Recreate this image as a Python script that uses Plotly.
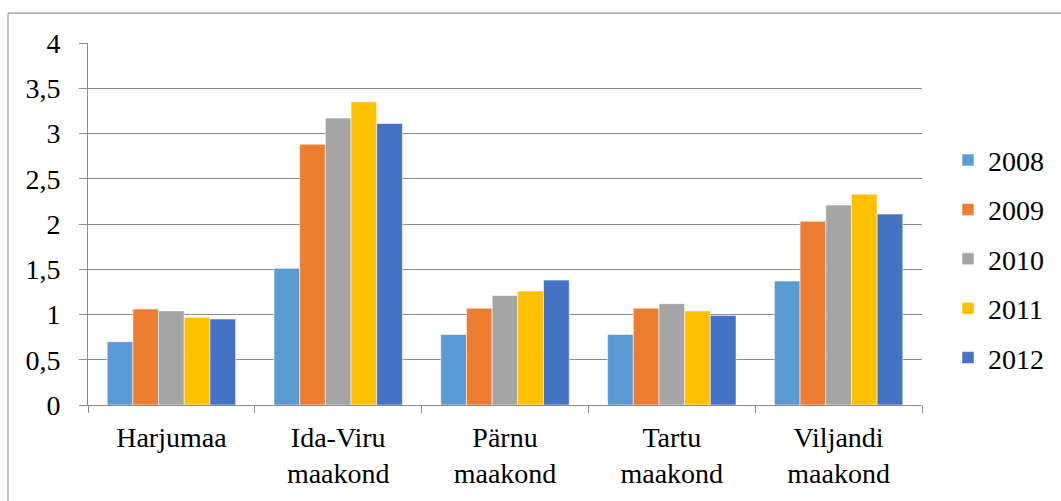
import plotly.graph_objects as go

# Counties (categories) and yearly values
counties = ["Harjumaa", "Ida-Viru<br>maakond", "Pärnu<br>maakond", "Tartu<br>maakond", "Viljandi<br>maakond"]
years = ["2008", "2009", "2010", "2011", "2012"]
values_2008 = [0.70, 1.51, 0.78, 0.78, 1.37]
values_2009 = [1.06, 2.88, 1.07, 1.07, 2.03]
values_2010 = [1.04, 3.17, 1.21, 1.12, 2.21]
values_2011 = [0.97, 3.35, 1.26, 1.04, 2.33]
values_2012 = [0.95, 3.11, 1.38, 0.99, 2.11]
series = [values_2008, values_2009, values_2010, values_2011, values_2012]
colors = ["#5B9BD5", "#ED7D31", "#A5A5A5", "#FFC000", "#4472C4"]
y_ticks = [0, 0.5, 1, 1.5, 2, 2.5, 3, 3.5, 4]

FONT = "Liberation Serif"
FSIZE = 28
GRID = "#8C8C8C"

W, H = 1061, 501
ML, MR, MT, MB = 88, 139, 43, 94

fig = go.Figure()
for year, vals, col in zip(years, series, colors):
    fig.add_trace(go.Bar(
        x=counties, y=vals, name=year, legendgroup=year,
        marker=dict(color=col, line=dict(color="rgba(255,255,255,0.55)", width=1)),
    ))

pw = W - ML - MR
ph = H - MT - MB


def px_x(v):
    return (v - ML) / pw


def px_y(v):
    return (H - MB - v) / ph


# outer chart frame (left and top edges)
fig.add_shape(type="line", xref="paper", yref="paper",
              x0=px_x(8), x1=px_x(8), y0=px_y(13), y1=px_y(H + 5),
              line=dict(color="#9A9A9A", width=1.2))
fig.add_shape(type="line", xref="paper", yref="paper",
              x0=px_x(8), x1=px_x(W + 5), y0=px_y(13), y1=px_y(13),
              line=dict(color="#9A9A9A", width=1.2))

fig.update_layout(
    width=W, height=H,
    margin=dict(l=ML, r=MR, t=MT, b=MB),
    paper_bgcolor="white", plot_bgcolor="white",
    separators=", ",
    barmode="group", bargap=0.23, bargroupgap=0,
    font=dict(family=FONT, size=FSIZE, color="black"),
    showlegend=True,
    legend=dict(x=px_x(948), xanchor="left", y=px_y(260), yanchor="middle",
                font=dict(family=FONT, size=FSIZE, color="black"),
                tracegroupgap=10, traceorder="grouped",
                bgcolor="rgba(0,0,0,0)"),
    xaxis=dict(
        showline=True, linecolor=GRID, linewidth=1,
        ticks="outside", tickson="boundaries", ticklen=7, tickcolor=GRID,
        showgrid=False, ticklabelstandoff=7,
        tickfont=dict(family=FONT, size=FSIZE, color="black"),
    ),
    yaxis=dict(
        range=[0, 4], tickvals=y_ticks,
        showgrid=True, gridcolor=GRID, gridwidth=1,
        showline=True, linecolor=GRID, linewidth=1,
        ticks="outside", ticklen=8, tickcolor=GRID,
        zeroline=False, ticklabelstandoff=13,
        tickfont=dict(family=FONT, size=FSIZE, color="black"),
    ),
)

fig.write_html("out.html")
